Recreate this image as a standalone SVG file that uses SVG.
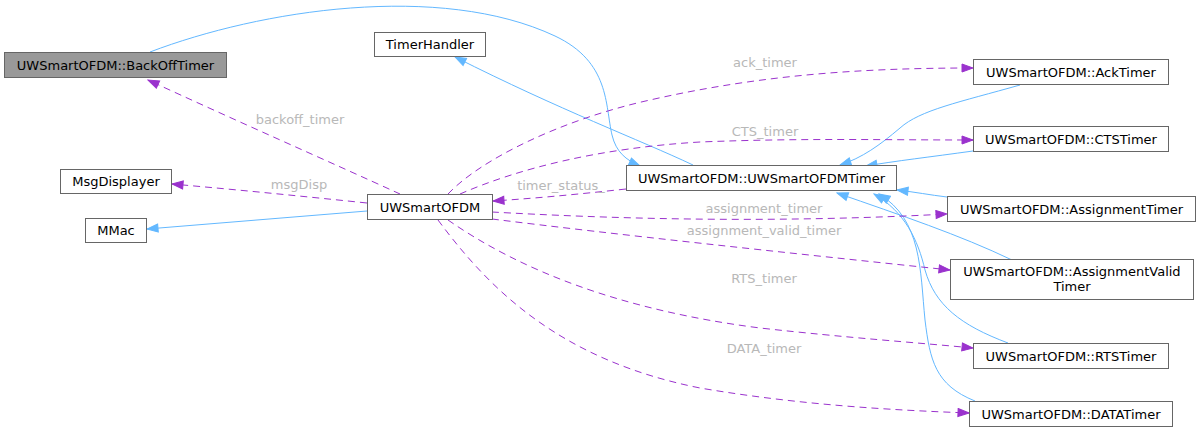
<svg xmlns="http://www.w3.org/2000/svg" width="1200" height="432" viewBox="0 0 1200 432">
<style>
  .node rect { fill: #ffffff; stroke: #666666; stroke-width: 1; }
  .node.hl rect { fill: #999999; }
  .node text { font-family: "DejaVu Sans", sans-serif; font-size: 13px; fill: #000000; text-anchor: middle; }
  .inh { fill: none; stroke: #63b8ff; stroke-width: 1; }
  .use { fill: none; stroke: #9a32cd; stroke-width: 1; stroke-dasharray: 7,5; }
  .lbl { font-family: "DejaVu Sans", sans-serif; font-size: 13px; fill: #b8b8b8; text-anchor: middle; }
</style>
<defs>
  <marker id="ab" markerUnits="userSpaceOnUse" markerWidth="13" markerHeight="10" refX="12" refY="5" orient="auto" viewBox="0 0 13 10">
    <path d="M1,1 L12,5 L1,9 z" fill="#63b8ff" stroke="#63b8ff"/>
  </marker>
  <marker id="ap" markerUnits="userSpaceOnUse" markerWidth="13" markerHeight="10" refX="12" refY="5" orient="auto" viewBox="0 0 13 10">
    <path d="M1,1 L12,5 L1,9 z" fill="#9a32cd" stroke="#9a32cd"/>
  </marker>
</defs>
<rect width="1200" height="432" fill="#ffffff"/>
<g id="connectors">
  <!-- inheritance -->
  <path class="inh" marker-end="url(#ab)" d="M150,52 C260,10 440,-18 555,36 C610,62 605,105 612,135 C616,152 626,160 640,166"/>
  <path class="inh" marker-end="url(#ab)" d="M693,165 C640,140 560,110 455,57"/>
  <path class="inh" marker-end="url(#ab)" d="M367,211 L147,229"/>
  <path class="inh" marker-end="url(#ab)" d="M1020,85 C960,102 920,110 900,128 C880,145 862,158 840,165"/>
  <path class="inh" marker-end="url(#ab)" d="M973,151 C930,157 895,161 866,166"/>
  <path class="inh" marker-end="url(#ab)" d="M947,197 C930,195 915,192 897,190"/>
  <path class="inh" marker-end="url(#ab)" d="M1012,260 C960,235 900,215 837,193"/>
  <path class="inh" marker-end="url(#ab)" d="M1008,343 C960,325 935,305 925,270 C918,240 905,212 874,194"/>
  <path class="inh" marker-end="url(#ab)" d="M975,401 C935,385 930,360 925,320 C920,270 922,220 879,194"/>
  <!-- usage -->
  <path class="use" marker-end="url(#ap)" d="M400,194 C330,162 230,118 148,80"/>
  <text class="lbl" x="300" y="124">backoff_timer</text>
  <path class="use" marker-end="url(#ap)" d="M367,203 C300,196 240,190 172,184"/>
  <text class="lbl" x="299" y="189">msgDisp</text>
  <path class="use" marker-end="url(#ap)" d="M626,189 C580,194 540,198 493,201"/>
  <text class="lbl" x="561" y="190">timer_status_</text>
  <path class="use" marker-end="url(#ap)" d="M448,194 C480,160 560,120 650,100 C760,75 860,68 973,68"/>
  <text class="lbl" x="765" y="67">ack_timer</text>
  <path class="use" marker-end="url(#ap)" d="M460,194 C520,168 600,148 700,142 C800,138 880,140 973,140"/>
  <text class="lbl" x="765" y="136">CTS_timer</text>
  <path class="use" marker-end="url(#ap)" d="M492,212 C600,218 760,224 947,214"/>
  <text class="lbl" x="764" y="213">assignment_timer</text>
  <path class="use" marker-end="url(#ap)" d="M492,219 C620,235 780,252 950,270"/>
  <text class="lbl" x="764" y="235">assignment_valid_timer</text>
  <path class="use" marker-end="url(#ap)" d="M448,220 C520,270 620,310 760,328 C850,338 910,342 973,348"/>
  <text class="lbl" x="764" y="283">RTS_timer</text>
  <path class="use" marker-end="url(#ap)" d="M438,220 C490,290 560,360 700,388 C800,405 890,410 969,413"/>
  <text class="lbl" x="764" y="353">DATA_timer</text>
</g>
<g id="BackOffTimer" class="node hl"><rect x="4.5" y="52.5" width="222" height="25"/><text x="115.5" y="69.5">UWSmartOFDM::BackOffTimer</text></g>
<g id="TimerHandler" class="node"><rect x="374.5" y="32.5" width="111" height="24"/><text x="430" y="49">TimerHandler</text></g>
<g id="UWSmartOFDMTimer" class="node"><rect x="626.5" y="165.5" width="270" height="25"/><text x="761.5" y="182.5">UWSmartOFDM::UWSmartOFDMTimer</text></g>
<g id="UWSmartOFDM" class="node"><rect x="367.5" y="194.5" width="125" height="25"/><text x="430" y="211.5">UWSmartOFDM</text></g>
<g id="MsgDisplayer" class="node"><rect x="60.5" y="169.5" width="111" height="24"/><text x="116" y="186">MsgDisplayer</text></g>
<g id="MMac" class="node"><rect x="85.5" y="218.5" width="61" height="24"/><text x="116" y="235">MMac</text></g>
<g id="AckTimer" class="node"><rect x="973.5" y="59.5" width="195" height="25"/><text x="1071" y="76.5">UWSmartOFDM::AckTimer</text></g>
<g id="CTSTimer" class="node"><rect x="973.5" y="126.5" width="195" height="25"/><text x="1071" y="143.5">UWSmartOFDM::CTSTimer</text></g>
<g id="AssignmentTimer" class="node"><rect x="947.5" y="196.5" width="248" height="25"/><text x="1071.5" y="213.5">UWSmartOFDM::AssignmentTimer</text></g>
<g id="AssignmentValidTimer" class="node"><rect x="950.5" y="259.5" width="243" height="40"/><text x="1072" y="276">UWSmartOFDM::AssignmentValid</text><text x="1072" y="291">Timer</text></g>
<g id="RTSTimer" class="node"><rect x="973.5" y="343.5" width="195" height="25"/><text x="1071" y="360.5">UWSmartOFDM::RTSTimer</text></g>
<g id="DATATimer" class="node"><rect x="969.5" y="401.5" width="203" height="25"/><text x="1071" y="418.5">UWSmartOFDM::DATATimer</text></g>
</svg>
